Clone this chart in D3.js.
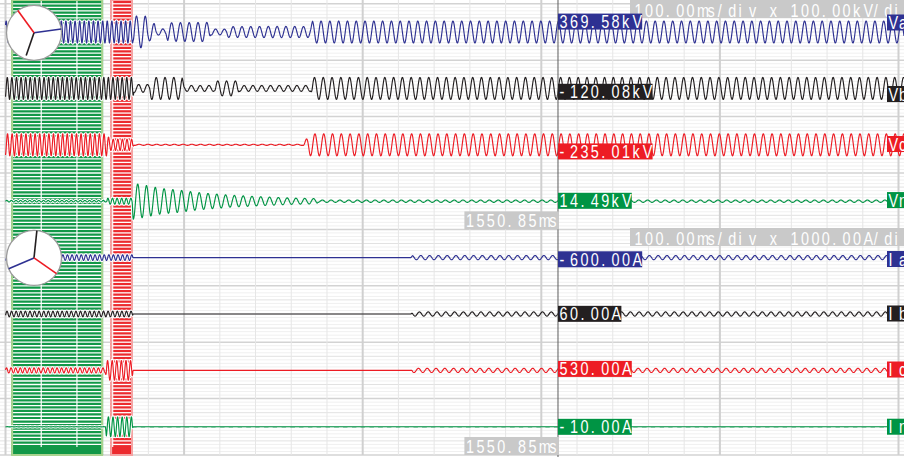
<!DOCTYPE html>
<html>
<head>
<meta charset="utf-8">
<script src="https://cdn.jsdelivr.net/npm/d3@7/dist/d3.min.js"></script>
<style>
  html, body { margin: 0; padding: 0; background: #ffffff; overflow: hidden; }
  svg { display: block; }
  text { white-space: pre; }
</style>
</head>
<body>
<svg id="chart" width="904" height="457"></svg>
<script>
// ---- recorded channels ----
const channels = ["Va", "Vb", "Vc", "Vn", "Ia", "Ib", "Ic", "In"];
const channelUnits = ["kV", "kV", "kV", "kV", "A", "A", "A", "A"];

// cursor readout
const cursorTime = 1550.85; // ms
const cursorValues = [369.58, -120.08, -235.01, 14.49, -600.00, 60.00, 530.00, -10.00];

// trace values at the right edge, where the channel names are tagged
const edgeValues = [337, -199, 28, 40, -500, 180, 320, 30];

// time base: compressed pre-fault section, then real-time section
const timeBreaks = [1176.5, 1313.0, 1744.5];

// sensitivity
const timePerDiv = 100;   // ms
const voltsPerDiv = 100;  // kV
const ampsPerDiv = 1000;  // A

// carrier period of the sampled traces (ms)
const periodMs = 4.92;

// marked windows (ms): pre-fault reference, fault
const preFaultWindow = [1182.5, 1281.0];
const faultWindow = [1288.5, 1313.0];

// peak envelopes, [time ms, peak value]
const envVa = [[1176.5, 390], [1313, 390], [1313.5, 570], [1320.5, 560], [1321.5, 320], [1325, 300],
  [1326, 110], [1331.5, 110], [1332.5, 330], [1355.5, 340], [1356.5, 110], [1365, 100], [1366, 190],
  [1390, 200], [1412.5, 195], [1413.5, 390], [1744.5, 390]];
const envVb = [[1176.5, 390], [1313, 390], [1313.5, 140], [1322, 140], [1323, 390], [1340.5, 390],
  [1341.5, 105], [1358.5, 105], [1359.5, 265], [1371.5, 265], [1372.5, 105], [1412.5, 105],
  [1413.5, 390], [1744.5, 390]];
const envVc = [[1176.5, 390], [1285, 390], [1288, 200], [1312.5, 200], [1313.5, 20], [1408, 20],
  [1412, 390], [1744.5, 390]];
const envVn = [[1176.5, 28], [1285, 28], [1285.5, 106], [1312, 106], [1313, 640], [1319.7, 567],
  [1328.1, 460], [1339.3, 390], [1350.5, 300], [1367.3, 213], [1384.1, 160], [1400.9, 113],
  [1416, 89], [1416.5, 42], [1744.5, 42]];
const envIa = [[1176.5, 1000], [1312.5, 1000], [1313, 0], [1468.5, 0], [1469.5, 750], [1744.5, 750]];
const envIb = [[1176.5, 1000], [1312.5, 1000], [1313, 0], [1468.5, 0], [1469.5, 750], [1744.5, 750]];
const envIc = [[1176.5, 900], [1283.5, 900], [1284.5, 3500], [1312, 3500], [1313, 0], [1468.5, 0],
  [1469.5, 750], [1744.5, 750]];
const envIn = [[1176.5, 40], [1283.5, 40], [1284.5, 3500], [1312, 3500], [1313, 30], [1744.5, 30]];
const envelopes = [envVa, envVb, envVc, envVn, envIa, envIb, envIc, envIn];

// phasor diagrams (angle deg, relative magnitude) for phases a, b, c
const voltagePhasorAngles = [8, -109, 126];
const voltagePhasorMags = [1.0, 0.87, 1.0];
const currentPhasorAngles = [-157, 84, -35];
const currentPhasorMags = [1.0, 1.0, 1.0];

// ---- styling ----
const phaseColors = ["#2e3192", "#231f20", "#ed1c24", "#009444"];
const channelColors = channels.map((c, i) => phaseColors[i % 4]);
const W = 904, H = 457;
const PITCH = 10.4, SQUEEZE = 0.8, FONT_SIZE = 18;
const FONT = "'Liberation Sans', Arial, Helvetica, sans-serif";

const svg = d3.select("#chart");
const defs = svg.append("defs");

// ---- scales ----
const x = d3.scaleLinear().domain(timeBreaks).range([5.5, 133, W]);
const band = d3.scaleBand().domain(channels).range([3.8, 455]);
const bw = band.bandwidth();
const yOf = channels.map((ch, i) => {
  const fs = 10 * (channelUnits[i] === "kV" ? voltsPerDiv : ampsPerDiv);
  return d3.scaleLinear().domain([-fs, fs]).range([band(ch) + bw, band(ch)]);
});
const gridX = d3.scaleLinear().domain([0, 25]).range([5.5, 898.5]);
const gridY = d3.scaleLinear().domain([0, 128]).range([3.8, 455]);

// ---- grid ----
const grid = svg.append("g");
grid.selectAll("line.h").data(d3.range(129)).join("line")
  .attr("class", "h")
  .attr("x1", 0).attr("x2", W)
  .attr("y1", d => gridY(d)).attr("y2", d => gridY(d))
  .attr("stroke", d => d % 16 === 0 ? "#d3d3d3" : d % 4 === 0 ? "#e2e2e2" : "#f0f0f0")
  .attr("stroke-width", d => d % 16 === 0 ? 1.5 : 1);
grid.selectAll("line.v").data(d3.range(26)).join("line")
  .attr("class", "v")
  .attr("x1", d => gridX(d)).attr("x2", d => gridX(d))
  .attr("y1", 0).attr("y2", 455)
  .attr("stroke", d => d % 5 === 0 ? "#d0d0d0" : "#e6e6e6")
  .attr("stroke-width", d => d % 5 === 0 ? 2 : 1);

// ---- marked windows ----
const regionStyles = [
  { fill: "#129848", edge: "#a9d38f" },
  { fill: "#ec2a2e", edge: "#f4a4a4" }
];
const haloClip = defs.append("clipPath").attr("id", "haloClip");
[preFaultWindow, faultWindow].forEach((win, k) => {
  const x0 = x(win[0]), x1 = x(win[1]);
  const st = regionStyles[k];
  const clipId = "win" + k;
  defs.append("clipPath").attr("id", clipId)
    .append("rect").attr("x", x0).attr("y", 0).attr("width", x1 - x0).attr("height", 447);
  haloClip.append("rect").attr("x", x0).attr("y", 0).attr("width", x1 - x0).attr("height", 455);
  const g = svg.append("g");
  g.append("rect").attr("x", x0).attr("y", 0).attr("width", x1 - x0).attr("height", 447).attr("fill", st.fill);
  const gl = g.append("g").attr("clip-path", `url(#${clipId})`);
  gl.selectAll("line.h").data(d3.range(128)).join("line")
    .attr("x1", x0).attr("x2", x1)
    .attr("y1", d => gridY(d)).attr("y2", d => gridY(d))
    .attr("stroke", "#ffffff").attr("stroke-width", 1.3);
  gl.selectAll("line.v").data(d3.range(26)).join("line")
    .attr("x1", d => gridX(d)).attr("x2", d => gridX(d))
    .attr("y1", 0).attr("y2", 447)
    .attr("stroke", "#ffffff").attr("stroke-width", 1.2);
  g.append("rect").attr("x", x0).attr("y", 447).attr("width", x1 - x0).attr("height", 8).attr("fill", st.fill);
  g.append("rect").attr("x", x0 + 1).attr("y", 0).attr("width", x1 - x0 - 2).attr("height", 455)
    .attr("fill", "none").attr("stroke", st.edge).attr("stroke-width", 2);
});

// ---- traces ----
const tSamples = d3.range(timeBreaks[0], timeBreaks[2] + 0.001, 0.2);
const traces = channels.map((ch, i) => {
  const env = d3.scaleLinear()
    .domain(envelopes[i].map(d => d[0]))
    .range(envelopes[i].map(d => d[1]))
    .clamp(true);
  const A = env(cursorTime);
  const phi = Math.asin(Math.max(-1, Math.min(1, cursorValues[i] / A)));
  const value = t => env(t) * Math.sin(2 * Math.PI * (t - cursorTime) / periodMs + phi);
  return { ch, i, value, pts: tSamples.map(t => [t, value(t)]) };
});
const lineGen = i => d3.line().x(d => x(d[0])).y(d => yOf[i](d[1]));

const halo = svg.append("g").attr("clip-path", "url(#haloClip)");
traces.forEach(tr => {
  halo.append("path").attr("d", lineGen(tr.i)(tr.pts))
    .attr("fill", "none").attr("stroke", "#ffffff").attr("stroke-width", 3.2)
    .attr("stroke-linejoin", "round");
});
const traceG = svg.append("g");
traces.forEach(tr => {
  traceG.append("path").attr("d", lineGen(tr.i)(tr.pts))
    .attr("fill", "none").attr("stroke", channelColors[tr.i]).attr("stroke-width", 1.15)
    .attr("stroke-linejoin", "round");
});

// ---- cursor ----
const xc = x(cursorTime);
svg.append("line").attr("x1", xc).attr("x2", xc).attr("y1", 0).attr("y2", H)
  .attr("stroke", "#5c5c5c").attr("stroke-width", 1);

// fixed-pitch text: each glyph starts at its own cell
function monoText(g, str, x0, yBase, fill) {
  const chars = Array.from(str);
  g.append("text")
    .attr("transform", `translate(${x0},${yBase}) scale(${SQUEEZE},1)`)
    .attr("x", chars.map((c, i) => ((i * PITCH + 0.6) / SQUEEZE).toFixed(2)).join(" "))
    .attr("y", 0)
    .attr("font-family", FONT)
    .attr("font-size", FONT_SIZE)
    .attr("fill", fill)
    .text(str);
}
function tagBox(str, x0, cy, fill) {
  const g = svg.append("g");
  g.append("rect").attr("x", x0).attr("y", cy - 8).attr("width", Array.from(str).length * PITCH + 1)
    .attr("height", 16).attr("fill", fill);
  monoText(g, str, x0 + 1, cy + 6.5, "#ffffff");
}

// ---- scale and time readouts ----
const groups = [
  { first: "Va", last: "Vn", div: `${timePerDiv.toFixed(2)}ms/div x ${voltsPerDiv.toFixed(2)}kV/div`, top: 0 },
  { first: "Ia", last: "In", div: `${timePerDiv.toFixed(2)}ms/div x ${ampsPerDiv.toFixed(2)}A/div`, top: 228 }
];
groups.forEach(gr => {
  const g = svg.append("g");
  g.append("rect").attr("x", 630).attr("y", gr.top).attr("width", W - 630).attr("height", 18).attr("fill", "#c9c9c9");
  monoText(g, gr.div, 634, gr.top + 16.5, "#ffffff");
  const bottom = band(gr.last) + bw;
  const tStr = cursorTime.toFixed(2) + "ms";
  const wBox = Array.from(tStr).length * PITCH + 1;
  g.append("rect").attr("x", xc + 1 - wBox).attr("y", bottom - 18).attr("width", wBox).attr("height", 18).attr("fill", "#c9c9c9");
  monoText(g, tStr, xc + 2 - wBox, bottom - 2, "#ffffff");
});

// ---- cursor values and channel names ----
traces.forEach(tr => {
  const i = tr.i;
  tagBox(cursorValues[i].toFixed(2) + channelUnits[i], xc, yOf[i](cursorValues[i]), channelColors[i]);
  tagBox(tr.ch, 887, yOf[i](edgeValues[i]), channelColors[i]);
});

// ---- phasor diagrams ----
function phasor(cx, cy, r, angles, mags) {
  const g = svg.append("g");
  const rad = d3.scaleLinear().domain([0, 1]).range([0, r]);
  g.append("circle").attr("cx", cx).attr("cy", cy).attr("r", r)
    .attr("fill", "#ffffff").attr("stroke", "#9b9b9b").attr("stroke-width", 1.3);
  g.selectAll("line").data(angles).join("line")
    .attr("x1", cx).attr("y1", cy)
    .attr("x2", (a, j) => cx + rad(mags[j]) * Math.cos(a * Math.PI / 180))
    .attr("y2", (a, j) => cy - rad(mags[j]) * Math.sin(a * Math.PI / 180))
    .attr("stroke", (a, j) => phaseColors[j]).attr("stroke-width", 1.6);
}
phasor(34, band("Va") + 29, 27.5, voltagePhasorAngles, voltagePhasorMags);
phasor(34, band("Ia") + 28.5, 27.5, currentPhasorAngles, currentPhasorMags);
</script>
</body>
</html>
